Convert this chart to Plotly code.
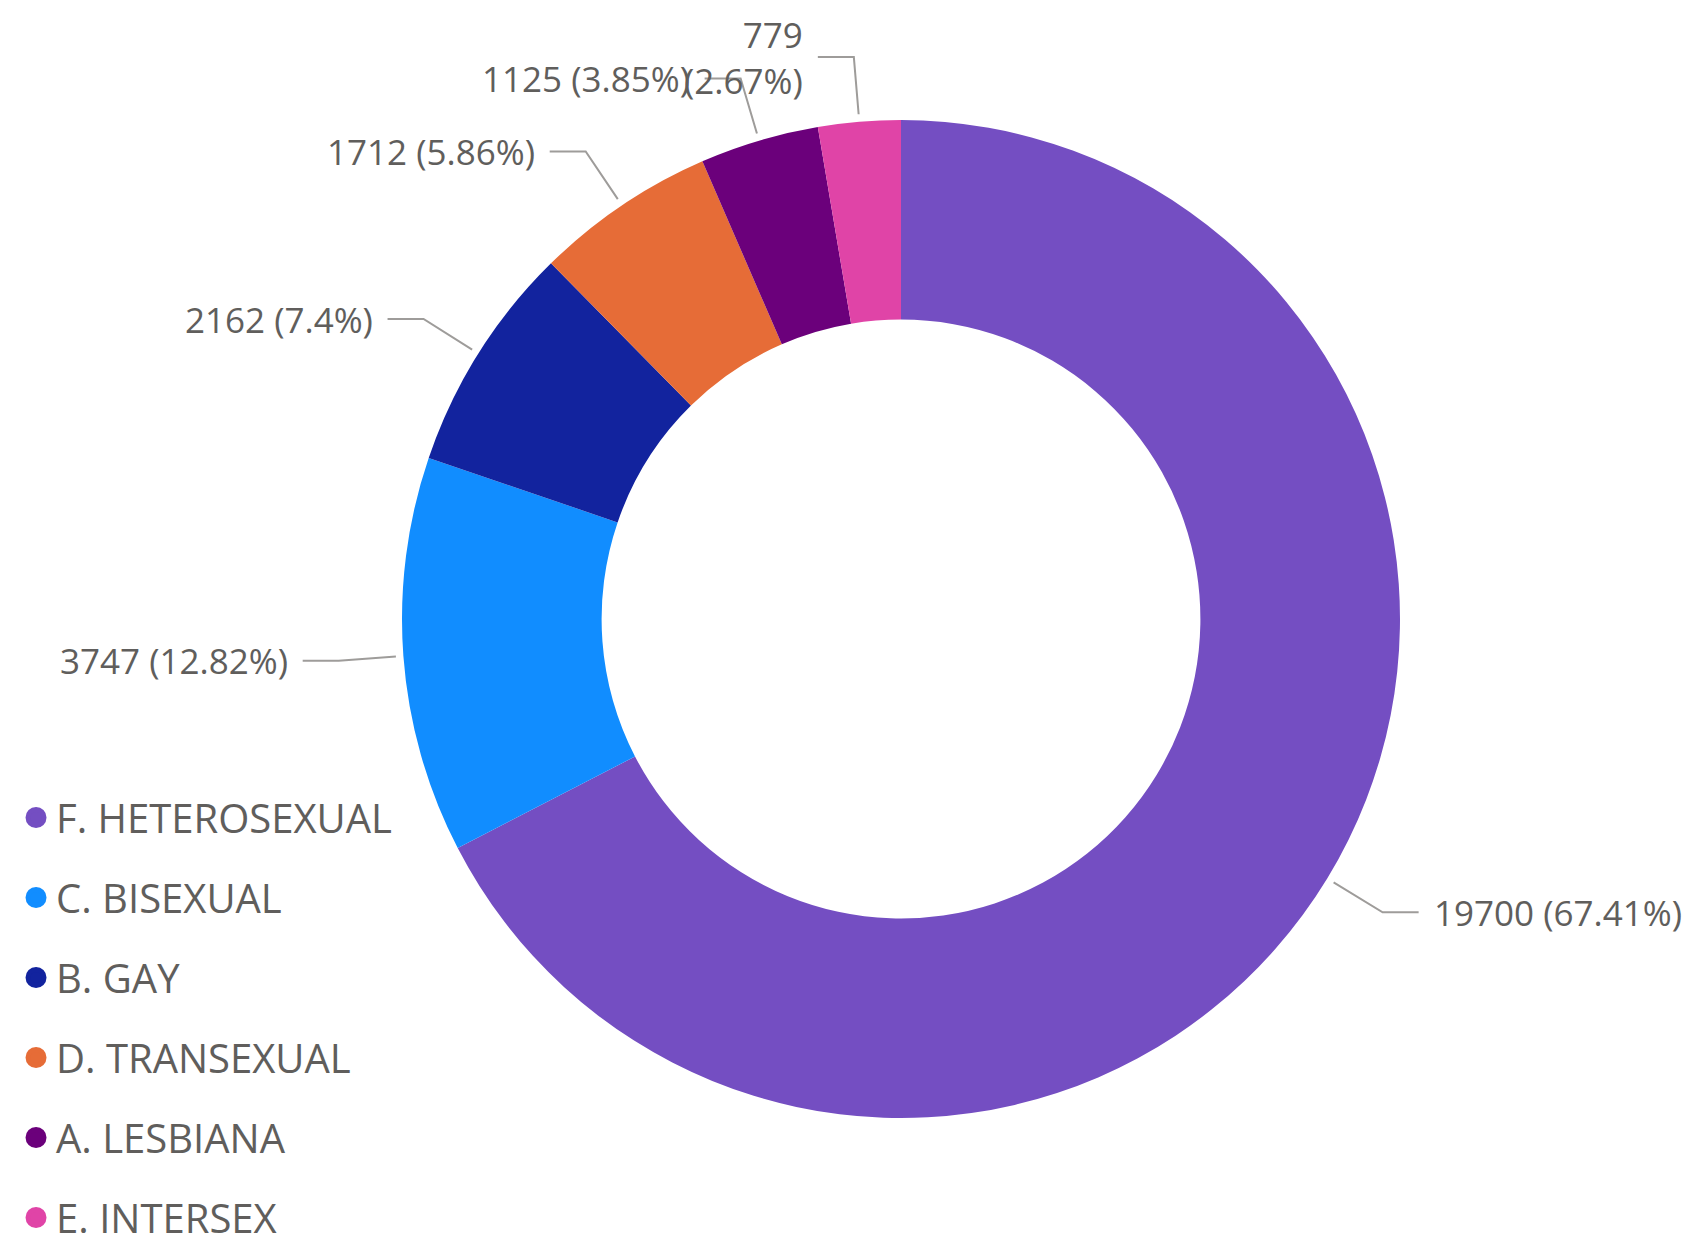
import math
import plotly.graph_objects as go

# ---- data ----
categories = ["F. HETEROSEXUAL", "C. BISEXUAL", "B. GAY", "D. TRANSEXUAL", "A. LESBIANA", "E. INTERSEX"]
values = [19700, 3747, 2162, 1712, 1125, 779]
colors = ["#744EC2", "#118DFF", "#12239E", "#E66C37", "#6B007B", "#E044A7"]

# ---- layout constants ----
W, H = 1687, 1243
CX, CY, R = 901, 619, 499          # donut centre / outer radius in pixels
HOLE = 0.6
FONT = "Open Sans, Segoe UI, sans-serif"
TXT = "#605E5C"
LINE = "#9E9C9A"
FS_LABEL = 35
FS_LEGEND = 40

def px2paper(x, y):
    return x / W, 1 - y / H

fig = go.Figure()
fig.add_trace(go.Pie(
    labels=categories, values=values, hole=HOLE, sort=False,
    direction="clockwise", rotation=0,
    marker=dict(colors=colors, line=dict(width=0)),
    textinfo="none", showlegend=False,
    domain=dict(x=[(CX - R) / W, (CX + R) / W],
                y=[(H - CY - R) / H, (H - CY + R) / H]),
))

# legend entries with circular markers
for c, col in zip(categories, colors):
    fig.add_trace(go.Scatter(
        x=[None], y=[None], mode="markers", name=c, legendgroup=c,
        marker=dict(symbol="circle", size=16, color=col, line=dict(width=5, color=col)),
    ))

# data labels with leader lines, computed from the slice angles
total = sum(values)
shapes, annotations = [], []
cum = 0
for v in values:
    th = 2 * math.pi * (cum + v / 2) / total
    cum += v
    s, c = math.sin(th), math.cos(th)
    ax, ay = CX + 1.015 * R * s, CY - 1.015 * R * c
    ex, ey = CX + 1.13 * R * s, CY - 1.13 * R * c
    right = s > 0
    hx = ex + 36 if right else ex - 36
    tx = hx + 13 if right else hx - 13
    share = 100 * v / total
    pct = f"{share:.2f}".rstrip("0").rstrip(".")
    label = f"{v}<br>({pct}%)" if share < 3 else f"{v} ({pct}%)"
    p = [px2paper(*q) for q in [(ax, ay), (ex, ey), (hx, ey)]]
    shapes.append(dict(type="path", xref="paper", yref="paper",
                       path=f"M {p[0][0]},{p[0][1]} L {p[1][0]},{p[1][1]} L {p[2][0]},{p[2][1]}",
                       line=dict(color=LINE, width=2)))
    tpx, tpy = px2paper(tx, ey)
    annotations.append(dict(xref="paper", yref="paper", x=tpx, y=tpy,
                            xanchor="left" if right else "right", yanchor="middle",
                            align="left" if right else "right",
                            text=label, showarrow=False,
                            font=dict(family=FONT, size=FS_LABEL, color=TXT)))

fig.update_layout(
    width=W, height=H, autosize=False,
    margin=dict(l=0, r=0, t=0, b=0, autoexpand=False),
    paper_bgcolor="white", plot_bgcolor="white",
    xaxis=dict(visible=False), yaxis=dict(visible=False),
    shapes=shapes, annotations=annotations,
    legend=dict(x=0.0095, xanchor="left", y=0.3685, yanchor="top",
                traceorder="grouped", tracegroupgap=25.0,
                font=dict(family=FONT, size=FS_LEGEND, color=TXT),
                bgcolor="rgba(0,0,0,0)"),
    hovermode=False,
)

fig.write_html("out.html",
               config=dict(displayModeBar=False, responsive=False),
               post_script="document.body.style.margin='0';")
